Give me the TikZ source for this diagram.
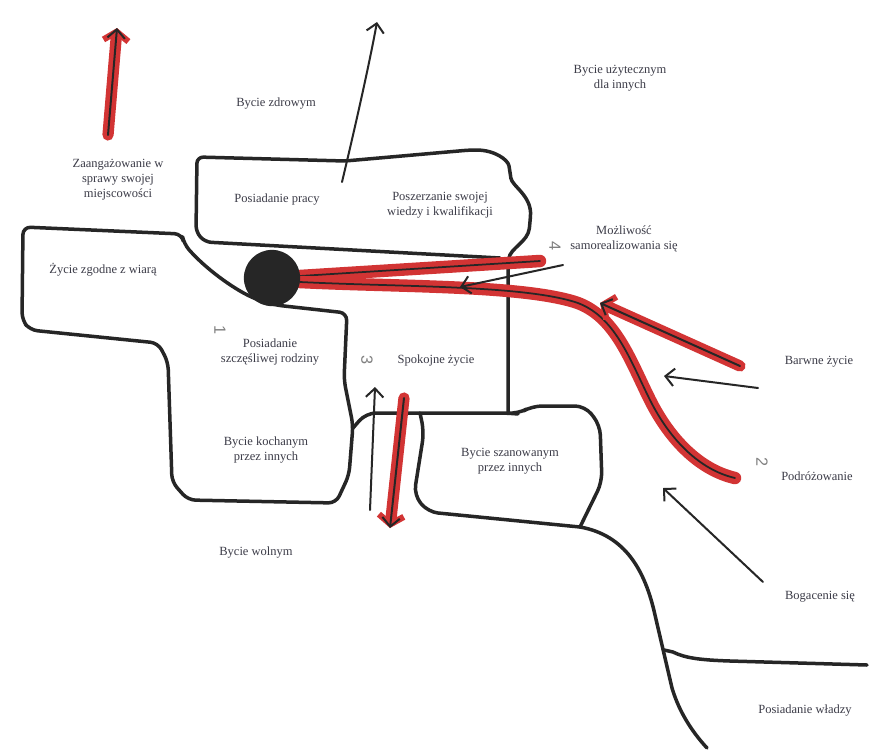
\documentclass[tikz,border=0pt]{standalone}
\usepackage{fontspec}
\setmainfont{Liberation Serif}
\newfontfamily\handfont{Liberation Sans}
\usetikzlibrary{arrows.meta}
\definecolor{inkgray}{RGB}{60,60,72}
\definecolor{markred}{RGB}{210,52,52}
\begin{document}
\begin{tikzpicture}[x=0.8pt,y=-0.8pt,
  every node/.style={font=\fontsize{10}{12}\selectfont,text=inkgray,align=center},
  pen/.style={line width=2.8pt,black!85,line join=round,line cap=round},
  arr/.style={line width=1.6pt,black!85,line cap=round,-{Straight Barb[length=7pt,width=14pt,line width=1.6pt]}},
  redarr/.style={arr,preaction={draw,markred,line width=9pt,line cap=round,-{Straight Barb[length=7pt,width=20pt,line width=5pt]}}},
  redline/.style={line width=1.4pt,black!85,line cap=round,preaction={draw,markred,line width=10pt,line cap=round}},
  digit/.style={font=\handfont\fontsize{13}{13}\selectfont,text=black!50,rotate=-90}]
\useasboundingbox[fill=white] (0,0) rectangle (874,754);
% free ends of the arrows
\coordinate (localtail) at (108,135);  \coordinate (localtip) at (117,28);
\coordinate (healthtail) at (342,182); \coordinate (healthtip) at (377,22);
\coordinate (selftail) at (563,265);   \coordinate (selftip) at (460,287);
\coordinate (bandend) at (540,261);
\coordinate (colourtail) at (740,366); \coordinate (colourtip) at (600,303);
\coordinate (greytail) at (758,388);   \coordinate (greytip) at (664,376);
\coordinate (traveltail) at (735,478);
\coordinate (wealthtail) at (763,582); \coordinate (wealthtip) at (663,488);
\coordinate (uptail) at (370,510);     \coordinate (uptip) at (375,387);
\coordinate (downtail) at (404,398);   \coordinate (downtip) at (390,528);
% regions
\draw[pen,rounded corners=6pt] (23,227) -- (182,234) -- (184,244) .. controls (205,268) and (232,288) .. (258,300) -- (275,305) -- (347,313) -- (344,380) -- (353,425) -- (349,475) -- (336,503) -- (188,500) -- (172,482) -- (168,362) -- (158,343) -- (30,330) -- (22,320) -- cycle;
\draw[pen,rounded corners=5pt] (500,258) -- (205,242) -- (196,232) -- (197,157) -- (345,161) -- (470,150) .. controls (495,150) and (508,160) .. (510,172) .. controls (512,186) and (532,196) .. (530,222) .. controls (528,242) and (510,248) .. (508,265) -- (508,412);
\draw[pen,rounded corners=8pt] (353,428) -- (366,413) -- (508,413) -- (518,414) -- (532,406) -- (585,406) -- (600,425) -- (602,482) -- (580,527);
\draw[pen,rounded corners=8pt] (420,413) -- (424,432) -- (414,495) -- (428,512) -- (580,527);
\draw[pen] (580,527) .. controls (625,535) and (645,570) .. (655,615) -- (672,688) .. controls (680,715) and (695,735) .. (707,748);
\draw[pen] (664,650) -- (673,652) .. controls (685,658) and (700,660) .. (730,661) -- (867,665);
% red paths into the dot
\draw[redline] (bandend) -- (300,276);
\draw[redline] (traveltail) .. controls (700,470) and (670,440) .. (650,400) .. controls (630,360) and (615,315) .. (575,302) .. controls (520,285) and (400,287) .. (300,282);
\node[circle,fill=black!85,minimum size=45pt,inner sep=0pt] (hub) at (272,278) {};
% arrows
\draw[redarr] (localtail) -- (localtip);
\draw[arr] (healthtail) .. controls (358,115) and (370,60) .. (healthtip);
\draw[arr] (selftail) -- (selftip);
\draw[redarr] (colourtail) -- (colourtip);
\draw[arr] (greytail) -- (greytip);
\draw[arr] (wealthtail) -- (wealthtip);
\draw[arr] (uptail) -- (uptip);
\draw[redarr] (downtail) -- (downtip);
% labels
\node (health) at (276,104) {Bycie zdrowym};
\node (local) at (118,180) {Zaangażowanie w\\sprawy swojej\\miejscowości};
\node (useful) at (620,78) {Bycie użytecznym\\dla innych};
\node (job) at (277,200) {Posiadanie pracy};
\node (skills) at (440,205) {Poszerzanie swojej\\wiedzy i kwalifikacji};
\node (selfreal) at (624,239) {Możliwość\\samorealizowania się};
\node (faith) at (103,270) {Życie zgodne z wiarą};
\node (family) at (270,352) {Posiadanie\\szczęśliwej rodziny};
\node (calm) at (436,361) {Spokojne życie};
\node (loved) at (266,450) {Bycie kochanym\\przez innych};
\node (respect) at (510,461) {Bycie szanowanym\\przez innych};
\node (colour) at (819,362) {Barwne życie};
\node (travel) at (817,476) {Podróżowanie};
\node (free) at (256,553) {Bycie wolnym};
\node (wealth) at (820,597) {Bogacenie się};
\node (power) at (805,711) {Posiadanie władzy};
% ranks
\node[digit] (rank1) at (220,330) {1};
\node[digit] (rank2) at (762,462) {2};
\node[digit] (rank3) at (367,360) {3};
\node[digit] (rank4) at (555,246) {4};
\end{tikzpicture}
\end{document}
